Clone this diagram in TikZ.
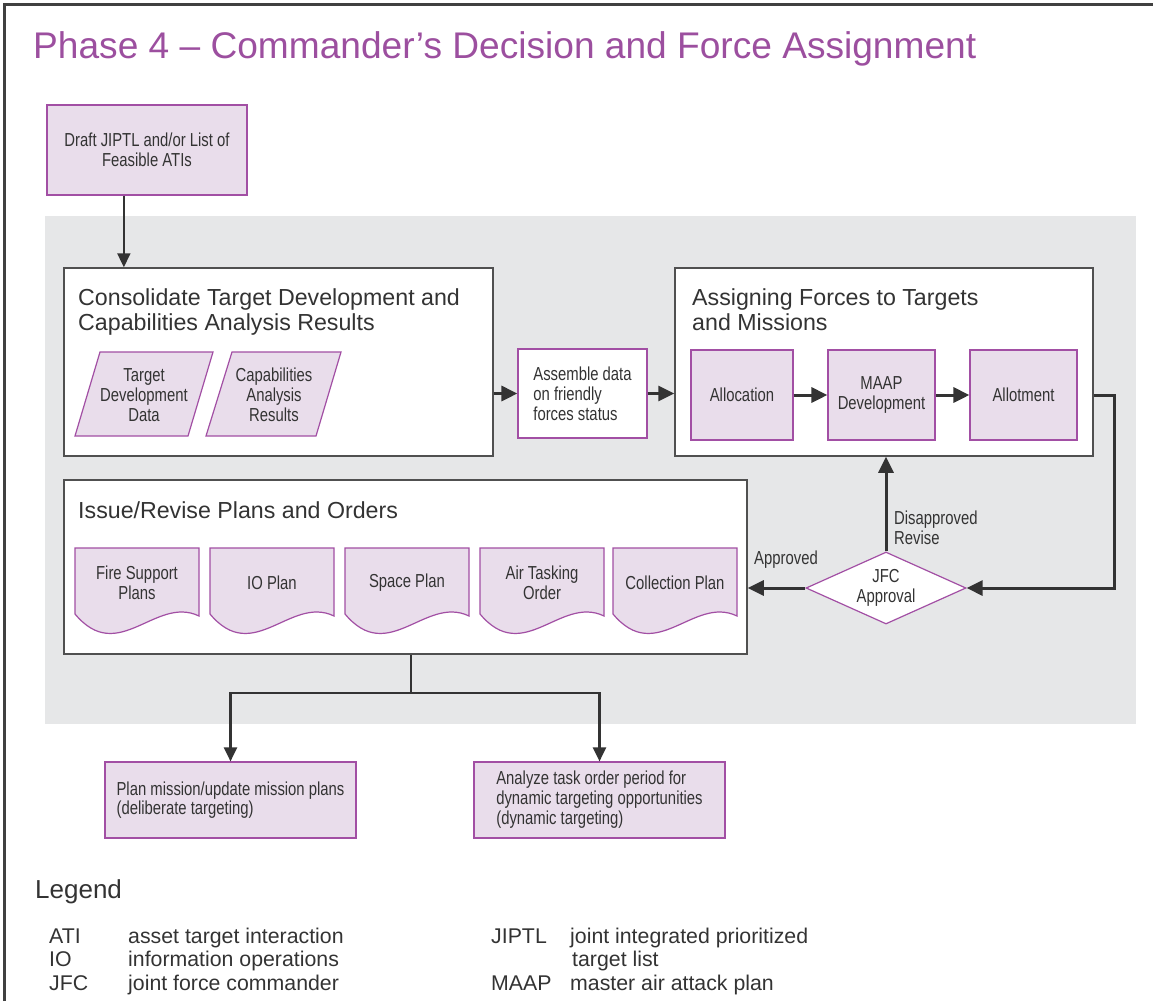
\documentclass[tikz,border=0pt]{standalone}
\usepackage{fontspec}
\setmainfont{Liberation Sans}
\newfontfamily\narrowsf[FakeStretch=0.79]{Liberation Sans}
\usetikzlibrary{arrows.meta,shapes.geometric,calc}
\definecolor{ttl}{HTML}{9C4F9F}
\definecolor{pfill}{HTML}{E9DDEB}
\definecolor{pline}{HTML}{A24FA4}
\definecolor{bgray}{HTML}{E6E7E8}
\definecolor{dline}{HTML}{333333}
\definecolor{bline}{HTML}{505050}
\definecolor{txt}{HTML}{333333}
\begin{document}
\begin{tikzpicture}[x=1pt,y=-1pt,
  nfont/.style={font=\narrowsf\fontsize{18.8}{20}\selectfont, text=txt},
  pbox/.style={draw=pline, fill=pfill, line width=1.2pt, inner sep=0pt, nfont, align=center},
  wbox/.style={draw=bline, fill=white, line width=1.5pt, inner sep=0pt},
  head/.style={font=\fontsize{23.2}{25}\selectfont, align=left, inner sep=0pt, anchor=base west, text=txt},
  docline/.style={draw=pline, fill=pfill, line width=1.2pt},
  docbox/.style={minimum width=124pt, minimum height=68pt, inner sep=0pt, nfont, align=center},
  conn/.style={draw=dline, line width=3pt, -{Triangle[length=16pt,width=15pt]}},
  connthin/.style={draw=dline, line width=2.2pt, -{Triangle[length=14pt,width=13pt]}},
  lbl/.style={nfont, inner sep=0pt, align=left},
  legtxt/.style={font=\fontsize{21.3}{23.5}\selectfont, text=txt, inner sep=0pt, anchor=base west, align=left}
]
\useasboundingbox (0,0) rectangle (1153,1001);
% frame
\draw[line width=3pt, color=black!75] (4,1001) -- (4,4) -- (1153,4);
% title
\node[anchor=base west, inner sep=0pt, text=ttl, font=\fontsize{37.1}{40}\selectfont] (title) at (33,58) {Phase 4 – Commander’s Decision and Force Assignment};
% gray background
\fill[bgray] (45,216) rectangle (1136,724);
% draft
\node[pbox, minimum width=200pt, minimum height=90pt] (draft) at (147,150) {Draft JIPTL and/or List of\\Feasible ATIs};
% consolidate
\node[wbox, minimum width=429pt, minimum height=188pt] (cons) at (278.5,362) {};
\node[head] (hcons) at (78,330) {Consolidate Target Development and\\Capabilities Analysis Results};
\filldraw[docline] (100,352) -- (213,352) -- (188,436) -- (75,436) -- cycle;
\node[lbl, align=center] (tdd) at (144,395) {Target\\Development\\Data};
\filldraw[docline] (232,352) -- (341,352) -- (316,436) -- (206,436) -- cycle;
\node[lbl, align=center] (car) at (274,395) {Capabilities\\Analysis\\Results};
% assemble
\node[draw=pline, fill=white, line width=1.2pt, inner sep=0pt, nfont, align=left, minimum width=129pt, minimum height=89pt] (asm) at (582.5,393.5) {Assemble data\\on friendly\\forces status};
% assigning
\node[wbox, minimum width=418pt, minimum height=188pt] (asg) at (884,362) {};
\node[head] (hasg) at (692,330) {Assigning Forces to Targets\\and Missions};
\node[pbox, minimum width=102pt, minimum height=90pt] (alloc) at (742,395) {Allocation};
\node[pbox, minimum width=107pt, minimum height=90pt] (maap) at (881.5,395) {MAAP\\Development};
\node[pbox, minimum width=107pt, minimum height=90pt] (allot) at (1023.5,395) {Allotment};
% issue
\node[wbox, minimum width=683pt, minimum height=174pt] (iss) at (405.5,567) {};
\node[head] (hiss) at (78,518) {Issue/Revise Plans and Orders};
\foreach \n/\x/\t in {1/137/{Fire Support\\Plans}, 2/272/{IO Plan}, 3/407/{Space Plan}, 4/542/{Air Tasking\\Order}, 5/675/{Collection Plan}} {
  \filldraw[docline] (\x+62,616) -- (\x+62,548) -- (\x-62,548) -- (\x-62,614) .. controls +(43.4,52) and +(-43.4,-21) .. (\x+62,616) -- cycle;
  \node[docbox] (doc\n) at (\x,583) {\t};
}
% diamond
\node[diamond, aspect=2.2, draw=pline, fill=white, line width=1.2pt, minimum width=160pt, minimum height=72pt, inner sep=0pt, nfont, align=center] (jfc) at (886,588) {JFC\\Approval};
% outputs
\node[pbox, align=left, minimum width=251pt, minimum height=76pt, font=\narrowsf\fontsize{18.8}{19.5}\selectfont] (plan) at (230.5,800) {Plan mission/update mission plans\\(deliberate targeting)};
\node[pbox, align=left, minimum width=251pt, minimum height=76pt, font=\narrowsf\fontsize{18.8}{20}\selectfont] (anl) at (599.5,800) {Analyze task order period for\\dynamic targeting opportunities\\(dynamic targeting)};
% connectors
\coordinate (dA) at ($(draft.south west)!0.385!(draft.south east)$);
\draw[connthin] (dA) -- (dA |- cons.north);
\draw[conn] (cons.east |- asm.west) -- (asm.west);
\draw[conn] (asm.east) -- (asm.east -| asg.west);
\draw[conn] (alloc.east) -- (maap.west);
\draw[conn] (maap.east) -- (allot.west);
\draw[conn] (allot.east -| asg.east) -- ++(21,0) |- (jfc.east);
\draw[conn] (jfc.north) -- (jfc.north |- asg.south);
\draw[conn] (jfc.west) -- (jfc.west -| iss.east);
\node[lbl, anchor=west] (dis) at (894,528) {Disapproved\\Revise};
\node[lbl] (appr) at (786,560) {Approved};
\coordinate (iS) at ($(iss.south west)!0.508!(iss.south east)$);
\draw[draw=dline, line width=2.5pt] (iS) -- ++(0,38) coordinate (split);
\draw[connthin] (split) -| (plan.north);
\draw[connthin] (split) -| (anl.north);
% legend
\node[anchor=base west, inner sep=0pt, text=txt, font=\fontsize{26}{28}\selectfont] (lgd) at (35,898) {Legend};
\node[legtxt] (a1) at (49,943) {ATI};
\node[legtxt] (d1) at (128,943) {asset target interaction};
\node[legtxt] (a2) at (49,966.5) {IO};
\node[legtxt] (d2) at (128,966.5) {information operations};
\node[legtxt] (a3) at (49,990) {JFC};
\node[legtxt] (d3) at (128,990) {joint force commander};
\node[legtxt] (a4) at (491,943) {JIPTL};
\node[legtxt] (d4) at (570,943) {joint integrated prioritized};
\node[legtxt] (d4b) at (572,966.5) {target list};
\node[legtxt] (a5) at (491,990) {MAAP};
\node[legtxt] (d5) at (570,990) {master air attack plan};
\end{tikzpicture}
\end{document}
